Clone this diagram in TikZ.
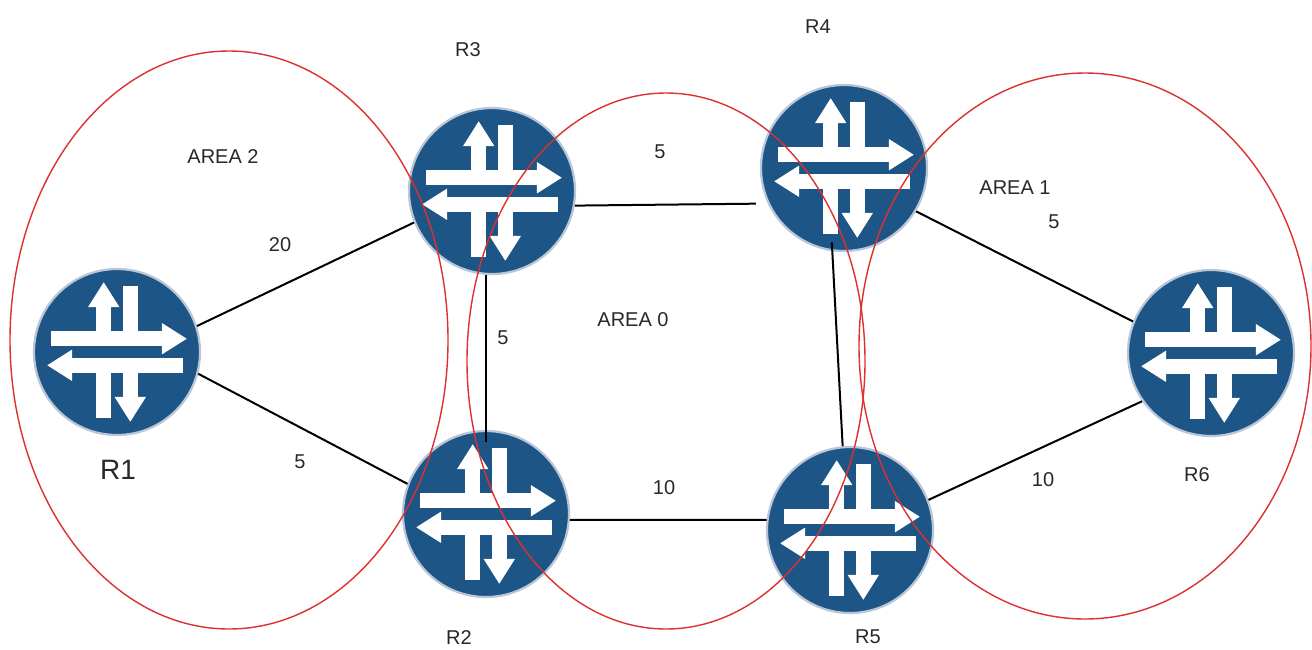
\documentclass[tikz,border=0pt]{standalone}
\usepackage{fontspec}
\setmainfont{Liberation Sans}
\definecolor{rblue}{RGB}{28,85,134}
\definecolor{rhalo}{RGB}{185,198,215}
\definecolor{ared}{RGB}{222,48,48}
\definecolor{ltxt}{RGB}{40,40,40}
\tikzset{
  router/.style={circle, fill=rblue, draw=rhalo, line width=2.2pt, minimum size=166pt, inner sep=0pt,
    path picture={
      \begin{scope}[shift={(path picture bounding box.center)}, x=83pt, y=83pt]
        \fill[white] (-0.80,0.07) rectangle (0.54,0.25);
        \fill[white] (0.54,-0.03) -- (0.84,0.16) -- (0.54,0.35) -- cycle;
        \fill[white] (-0.25,0.07) rectangle (-0.07,0.54);
        \fill[white] (-0.35,0.54) -- (-0.16,0.84) -- (0.03,0.54) -- cycle;
        \fill[white] (0.07,0.07) rectangle (0.25,0.80);
        \fill[white] (-0.54,-0.25) rectangle (0.80,-0.07);
        \fill[white] (-0.54,0.03) -- (-0.84,-0.16) -- (-0.54,-0.35) -- cycle;
        \fill[white] (0.07,-0.07) rectangle (0.25,-0.54);
        \fill[white] (-0.03,-0.54) -- (0.16,-0.84) -- (0.35,-0.54) -- cycle;
        \fill[white] (-0.25,-0.07) rectangle (-0.07,-0.80);
      \end{scope}
    }},
  link/.style={draw=black, line width=2pt},
  area/.style={draw=ared, line width=1.4pt},
  lbl/.style={inner sep=0pt, text=ltxt, font=\fontsize{20}{24}\selectfont},
  biglbl/.style={inner sep=0pt, text=ltxt, font=\fontsize{28}{32}\selectfont}
}
\begin{document}
\begin{tikzpicture}[x=1pt,y=-1pt]
\useasboundingbox[fill=white] (0,0) rectangle (1312,649);

% routers
\node[router] (r1) at (117,352) {};
\node[router] (r3) at (492,191) {};
\node[router] (r4) at (844,168) {};
\node[router] (r2) at (486,514) {};
\node[router] (r5) at (850,530) {};
\node[router] (r6) at (1211,353) {};

% links
\draw[link] (r1.18) -- (r3.202);
\draw[link] (r1.-15) -- (r2.159);
\draw[link, shorten >=12pt] (r3.-10) -- (r4.205);
\draw[link] (r2.north |- r3.south) -- ([yshift=-12pt]r2.north);
\draw[link] (r2.-4) -- (r5.173);
\draw[link, shorten <=-9pt] (r4.262) -- (r5.95);
\draw[link] (r4.-31) -- (r6.158);
\draw[link] (r5.21) -- (r6.215);

% areas
\draw[area] (229,340) ellipse [x radius=219, y radius=289];
\draw[area] (666,361) ellipse [x radius=199, y radius=268];
\draw[area] (1085,346) ellipse [x radius=226, y radius=273];

% area labels
\node[lbl] (a2) at (223,157) {AREA 2};
\node[lbl] (a0) at (633,320) {AREA 0};
\node[lbl] (a1) at (1015,188) {AREA 1};

% router labels
\node[biglbl] (l1) at (118,470) {R1};
\node[lbl] (l3) at (468,50) {R3};
\node[lbl] (l4) at (818,27) {R4};
\node[lbl] (l2) at (459,638) {R2};
\node[lbl] (l5) at (868,637) {R5};
\node[lbl] (l6) at (1197,475) {R6};

% costs
\node[lbl] (c13) at (280,245) {20};
\node[lbl] (c12) at (300,462) {5};
\node[lbl] (c32) at (503,338) {5};
\node[lbl] (c34) at (660,152) {5};
\node[lbl] (c25) at (664,488) {10};
\node[lbl] (c46) at (1054,222) {5};
\node[lbl] (c56) at (1043,480) {10};
\end{tikzpicture}
\end{document}
